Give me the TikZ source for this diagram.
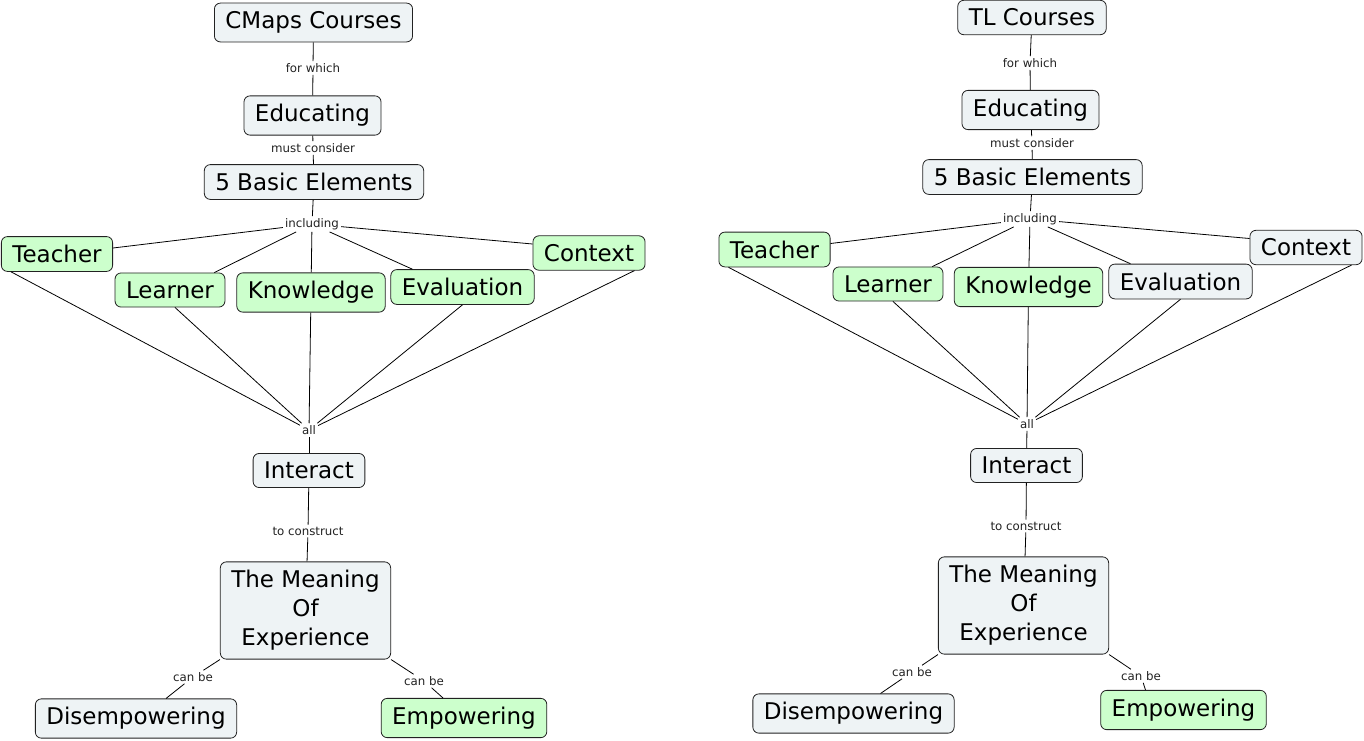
\documentclass[tikz,border=0pt]{standalone}
\usepackage{fontspec}
\setmainfont{DejaVu Sans}
\usetikzlibrary{positioning}
\definecolor{paper}{RGB}{238,243,245}
\definecolor{mint}{RGB}{204,255,204}
\definecolor{edge}{RGB}{34,34,34}
\tikzset{
  concept/.style={draw=edge, fill=#1, rounded corners=6pt, align=center, line width=0.8pt,
    inner xsep=11pt, inner ysep=8.5pt, font=\fontsize{23}{29}\selectfont},
  link/.style={font=\fontsize{11.8}{13}\selectfont, inner sep=2pt, text=edge},
  line/.style={draw=black, line width=0.8pt}
}

\begin{document}
\begin{tikzpicture}[x=1pt, y=-1pt]
  \useasboundingbox (0,0) rectangle (1364,740);
  % CMaps map (left)
  \node[concept=paper] (cmaps) at (313.5,22.5) {CMaps Courses};
  \node[link] (forwhich) at (313,68) {for which};
  \node[concept=paper] (educ) at (312.5,115.5) {Educating};
  \node[link] (consider) at (313,148) {must consider};
  \node[concept=paper] (basic) at (314,182) {5 Basic Elements};
  \node[link] (including) at (312,224) {including};
  \node[concept=mint] (teacher) at (57,254) {Teacher};
  \node[concept=mint] (learner) at (170,290) {Learner};
  \node[concept=mint] (knowledge) at (311,292.5) {Knowledge};
  \node[concept=mint] (evaluation) at (462.5,287) {Evaluation};
  \node[concept=mint] (context) at (589,253) {Context};
  \node[link] (all) at (309,430) {all};
  \node[concept=paper] (interact) at (309,470.5) {Interact};
  \node[link] (construct) at (308,531) {to construct};
  \node[concept=paper] (meaning) at (305.5,610.5) {The Meaning\\Of\\Experience};
  \node[link] (canbe) at (193,677) {can be};
  \node[link] (canbetoo) at (424,681) {can be};
  \node[concept=paper] (disemp) at (136,718.5) {Disempowering};
  \node[concept=mint] (emp) at (464,718) {Empowering};
  \draw[line] (cmaps) -- (forwhich);
  \draw[line] (forwhich) -- (educ);
  \draw[line] (educ) -- (consider);
  \draw[line] (consider) -- (basic);
  \draw[line] (basic) -- (including);
  \draw[line] (including) -- ([yshift=6pt]teacher.east);
  \draw[line] (including) -- ([xshift=-11pt]learner.north east);
  \draw[line] (including) -- (knowledge);
  \draw[line] (including) -- ([xshift=22pt]evaluation.north west);
  \draw[line] (including) -- ([yshift=9pt]context.west);
  \draw[line] ([xshift=10pt]teacher.south west) -- (all);
  \draw[line] ([xshift=5pt]learner.south) -- (all);
  \draw[line] (knowledge) -- (all);
  \draw[line] (evaluation.south) -- (all);
  \draw[line] ([xshift=-11pt]context.south east) -- (all);
  \draw[line] (all) -- (interact);
  \draw[line] (interact) -- (construct);
  \draw[line] (construct) -- (meaning);
  \draw[line] (meaning.south west) -- (canbe);
  \draw[line] (canbe) -- ([xshift=30pt]disemp.north);
  \draw[line] (meaning.south east) -- (canbetoo);
  \draw[line] (canbetoo) -- ([xshift=-21pt]emp.north);

  % TL map (right)
  \node[concept=paper] (tl) at (1032,17.5) {TL Courses};
  \node[link] (tlforwhich) at (1030,63) {for which};
  \node[concept=paper] (tleduc) at (1030.5,110) {Educating};
  \node[link] (tlconsider) at (1032,143) {must consider};
  \node[concept=paper] (tlbasic) at (1032.5,177) {5 Basic Elements};
  \node[link] (tlincluding) at (1030,219) {including};
  \node[concept=mint] (tlteacher) at (774.5,249.5) {Teacher};
  \node[concept=mint] (tllearner) at (888,284) {Learner};
  \node[concept=mint] (tlknowledge) at (1028.5,287) {Knowledge};
  \node[concept=paper] (tlevaluation) at (1180.5,281.5) {Evaluation};
  \node[concept=paper] (tlcontext) at (1306,247.5) {Context};
  \node[link] (tlall) at (1027,424) {all};
  \node[concept=paper] (tlinteract) at (1026.5,465.5) {Interact};
  \node[link] (tlconstruct) at (1026,526) {to construct};
  \node[concept=paper] (tlmeaning) at (1023.5,605.5) {The Meaning\\Of\\Experience};
  \node[link] (tlcanbe) at (912,672) {can be};
  \node[link] (tlcanbetoo) at (1141,676) {can be};
  \node[concept=paper] (tldisemp) at (853.5,713.5) {Disempowering};
  \node[concept=mint] (tlemp) at (1183.5,710) {Empowering};
  \draw[line] (tl) -- (tlforwhich);
  \draw[line] (tlforwhich) -- (tleduc);
  \draw[line] (tleduc) -- (tlconsider);
  \draw[line] (tlconsider) -- (tlbasic);
  \draw[line] (tlbasic) -- (tlincluding);
  \draw[line] (tlincluding) -- ([yshift=6pt]tlteacher.east);
  \draw[line] (tlincluding) -- ([xshift=-11pt]tllearner.north east);
  \draw[line] (tlincluding) -- (tlknowledge);
  \draw[line] (tlincluding) -- ([xshift=22pt]tlevaluation.north west);
  \draw[line] (tlincluding) -- ([yshift=9pt]tlcontext.west);
  \draw[line] ([xshift=10pt]tlteacher.south west) -- (tlall);
  \draw[line] ([xshift=5pt]tllearner.south) -- (tlall);
  \draw[line] (tlknowledge) -- (tlall);
  \draw[line] (tlevaluation.south) -- (tlall);
  \draw[line] ([xshift=-11pt]tlcontext.south east) -- (tlall);
  \draw[line] (tlall) -- (tlinteract);
  \draw[line] (tlinteract) -- (tlconstruct);
  \draw[line] (tlconstruct) -- (tlmeaning);
  \draw[line] (tlmeaning.south west) -- (tlcanbe);
  \draw[line] (tlcanbe) -- ([xshift=27pt]tldisemp.north);
  \draw[line] (tlmeaning.south east) -- (tlcanbetoo);
  \draw[line] (tlcanbetoo) -- ([xshift=-38pt]tlemp.north);
\end{tikzpicture}
\end{document}
